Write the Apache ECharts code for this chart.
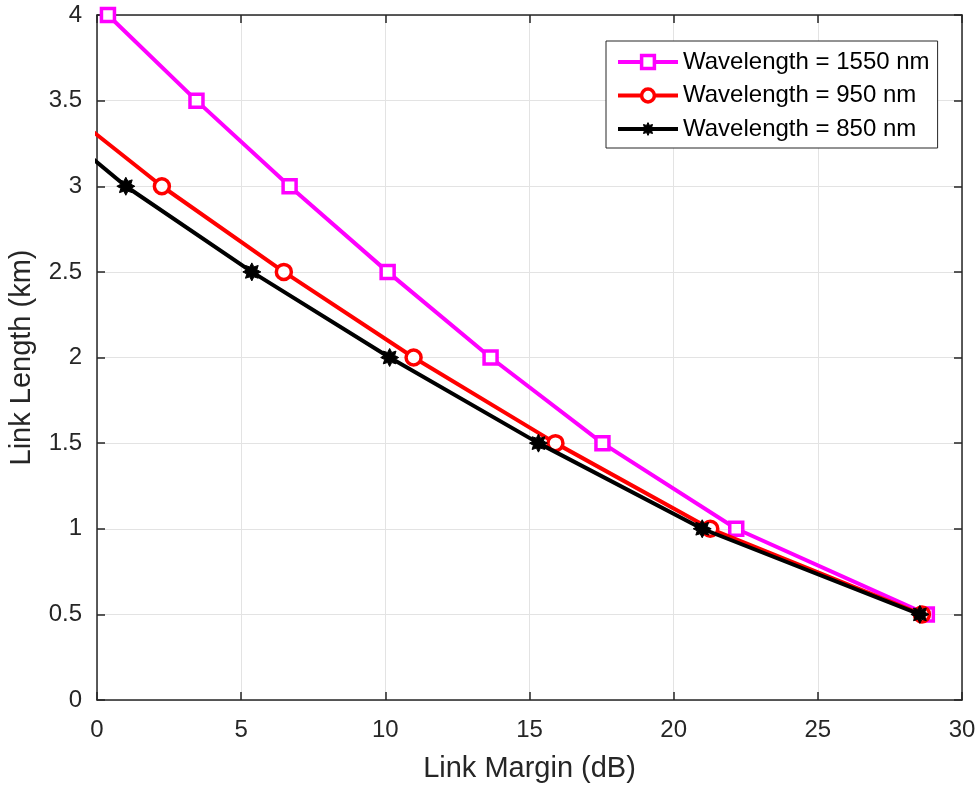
<!DOCTYPE html>
<html>
<head>
<meta charset="utf-8">
<script src="https://cdn.jsdelivr.net/npm/echarts@6/dist/echarts.min.js"></script>
<style>html,body{margin:0;padding:0;background:#fff}#c{width:979px;height:787px}</style>
</head>
<body>
<div id="c"></div>
<script>
var seriesNames = ['Wavelength = 1550 nm', 'Wavelength = 950 nm', 'Wavelength = 850 nm'];
var lengthKm1550 = [4, 3.5, 3, 2.5, 2, 1.5, 1, 0.5];
var margin1550 = [0.38, 3.45, 6.68, 10.08, 13.65, 17.53, 22.17, 28.78];
var lengthKm950 = [3.5, 3, 2.5, 2, 1.5, 1, 0.5];
var margin950 = [-1.5, 2.25, 6.48, 10.98, 15.9, 21.27, 28.61];
var lengthKm850 = [3.5, 3, 2.5, 2, 1.5, 1, 0.5];
var margin850 = [-2.57, 1.0, 5.37, 10.15, 15.31, 20.99, 28.54];
var xTicks = [0, 5, 10, 15, 20, 25, 30];
var yTicks = [0, 0.5, 1, 1.5, 2, 2.5, 3, 3.5, 4];

function pairs(xs, ys) { return xs.map(function (x, i) { return [x, ys[i]]; }); }

// 8-point star path for the asterisk marker
function starPath() {
  var pts = [], n = 8, ro = 10, ri = 6;
  for (var i = 0; i < 2 * n; i++) {
    var r = i % 2 === 0 ? ro : ri;
    var a = Math.PI * i / n - Math.PI / 2;
    pts.push((r * Math.cos(a)).toFixed(2) + ' ' + (r * Math.sin(a)).toFixed(2));
  }
  return 'path://M' + pts.join(' L') + ' Z';
}
var star = starPath();

var font = 'Liberation Sans, Arial, Helvetica, sans-serif';
var axisColor = '#262626';
var colors = ['#ff00ff', '#ff0000', '#000000'];

var chart = echarts.init(document.getElementById('c'));
function axisBase() {
  return {
    axisLine: { show: true, onZero: false, lineStyle: { color: axisColor, width: 1.5 } },
    axisTick: { show: true, inside: true, length: 8, lineStyle: { color: axisColor, width: 1.5 } },
    splitLine: { show: false }
  };
}
chart.setOption({
  animation: false,
  backgroundColor: '#ffffff',
  grid: { left: 97, right: 17, top: 15, bottom: 87, containLabel: false, outerBoundsMode: 'none' },
  legend: {
    left: 606, top: 41,
    orient: 'vertical',
    data: [
      { name: seriesNames[0], itemStyle: { color: '#fff', borderColor: colors[0], borderWidth: 3.5 }, lineStyle: { width: 4, color: colors[0] } },
      { name: seriesNames[1], itemStyle: { color: '#fff', borderColor: colors[1], borderWidth: 3.5 }, lineStyle: { width: 4, color: colors[1] } },
      { name: seriesNames[2], itemStyle: { color: '#000', borderColor: '#000', borderWidth: 1 }, lineStyle: { width: 4, color: colors[2] } }
    ],
    itemWidth: 60, itemHeight: 16, itemGap: 9.5,
    padding: [9, 8, 7, 10],
    borderColor: axisColor, borderWidth: 1,
    backgroundColor: '#ffffff',
    textStyle: { fontFamily: font, fontSize: 24, color: '#000' }
  },
  xAxis: [
    Object.assign(axisBase(), {
      type: 'value', min: 0, max: 30, interval: 5, position: 'bottom',
      name: 'Link Margin (dB)', nameLocation: 'middle', nameGap: 54,
      nameTextStyle: { fontFamily: font, fontSize: 29, color: axisColor },
      axisLabel: { fontFamily: font, fontSize: 24, color: axisColor, margin: 18 },
      splitLine: { show: true, lineStyle: { color: '#e3e3e3', width: 1 } }
    }),
    Object.assign(axisBase(), {
      type: 'value', min: 0, max: 30, interval: 5, position: 'top', axisLabel: { show: false }
    })
  ],
  yAxis: [
    Object.assign(axisBase(), {
      type: 'value', min: 0, max: 4, interval: 0.5, position: 'left',
      name: 'Link Length (km)', nameLocation: 'middle', nameGap: 61,
      nameTextStyle: { fontFamily: font, fontSize: 29, color: axisColor },
      axisLabel: { fontFamily: font, fontSize: 24, color: axisColor, margin: 15 },
      splitLine: { show: true, lineStyle: { color: '#e3e3e3', width: 1 } }
    }),
    Object.assign(axisBase(), {
      type: 'value', min: 0, max: 4, interval: 0.5, position: 'right', axisLabel: { show: false }
    })
  ],
  series: [
    {
      name: seriesNames[0], type: 'line', clip: true,
      data: pairs(margin1550, lengthKm1550),
      symbol: 'rect', symbolSize: 13, showAllSymbol: true,
      lineStyle: { color: colors[0], width: 4 },
      itemStyle: { color: '#ffffff', borderColor: colors[0], borderWidth: 3.5 },
      z: 2
    },
    {
      name: seriesNames[1], type: 'line', clip: true,
      data: pairs(margin950, lengthKm950),
      symbol: 'circle', symbolSize: 15, showAllSymbol: true,
      lineStyle: { color: colors[1], width: 4 },
      itemStyle: { color: '#ffffff', borderColor: colors[1], borderWidth: 3.5 },
      z: 3
    },
    {
      name: seriesNames[2], type: 'line', clip: true,
      data: pairs(margin850, lengthKm850),
      symbol: star, symbolSize: 18, showAllSymbol: true,
      lineStyle: { color: colors[2], width: 4 },
      itemStyle: { color: '#000000', borderColor: '#000000', borderWidth: 1 },
      z: 4
    }
  ]
});
</script>
</body>
</html>
